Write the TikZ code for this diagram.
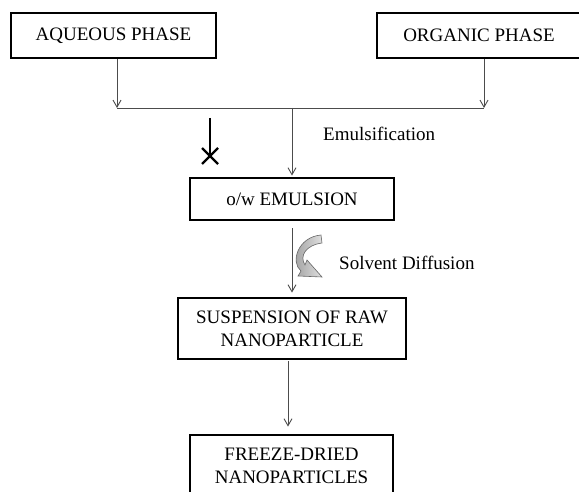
\documentclass[tikz,border=0pt]{standalone}
\usepackage{fontspec}
\setmainfont{Liberation Serif}
\usetikzlibrary{arrows.meta}

\begin{document}
\begin{tikzpicture}[x=1pt,y=-1pt,
   stagebox/.style={draw,line width=2.8pt,align=center,inner sep=0pt,font=\fontsize{19}{23}\selectfont},
   steplabel/.style={anchor=west,inner sep=0pt,font=\fontsize{19}{23}\selectfont},
   flow/.style={draw=black!70,line width=0.9pt},
   tip/.style={-{Straight Barb[length=7pt,width=8pt]}}]
   \useasboundingbox (0,0) rectangle (579,492);
   \node (aqueous) at (113.5,35.5) [stagebox,minimum width=205pt,minimum height=45pt] {AQUEOUS PHASE};
   \node (organic) at (479.0,35.5) [stagebox,minimum width=204pt,minimum height=45pt] {ORGANIC PHASE};
   \node (emulsion) at (292.0,199.0) [stagebox,minimum width=204pt,minimum height=42pt] {o/w EMULSION};
   \node (suspension) at (292.0,328.5) [stagebox,minimum width=228pt,minimum height=61pt] {SUSPENSION OF RAW\\NANOPARTICLE};
   \node (freeze) at (291.5,466.0) [stagebox,minimum width=203pt,minimum height=62pt] {FREEZE-DRIED\\NANOPARTICLES};
   \node (emlabel) at (323,134) [steplabel] {Emulsification};
   \node (sdlabel) at (339,263) [steplabel] {Solvent Diffusion};
   \coordinate (aqend) at (117,108);
   \coordinate (orend) at (484,108);
   \coordinate (join) at (292,108);
   \coordinate (blockstart) at (210,118);
   \coordinate (blockend) at (210,156);
   \draw[flow,tip] (aqueous.south -| aqend) -- (aqend);
   \draw[flow,tip] (organic.south -| orend) -- (orend);
   \draw[flow] (aqend) -- (orend);
   \draw[flow,tip,shorten >=1pt] (join) -- (join |- emulsion.north);
   \draw[flow,tip,shorten <=7pt,shorten >=4pt] (emulsion) -- (suspension);
   \draw[flow,tip,shorten <=1pt,shorten >=7pt] ([xshift=-4pt]suspension.south) -- ([xshift=-4pt]suspension.south |- freeze.north);
   % blocked path
   \draw[line width=2.4pt] (blockstart) -- (blockend);
   \draw[line width=2.4pt] ([shift={(-8,-8)}]blockend) -- ([shift={(8,8)}]blockend);
   \draw[line width=2.4pt] ([shift={(-8,8)}]blockend) -- ([shift={(8,-8)}]blockend);
   % curved arrow
   \shadedraw[left color=gray!80,right color=gray!25,draw=black!60,line width=0.6pt]
      (321,235) .. controls (298,237) and (290,262) .. (301,271) -- (298,276) -- (322,277)
      -- (307,260) -- (305,265) .. controls (299,256) and (306,245) .. (322,243) -- cycle;
\end{tikzpicture}
\end{document}
